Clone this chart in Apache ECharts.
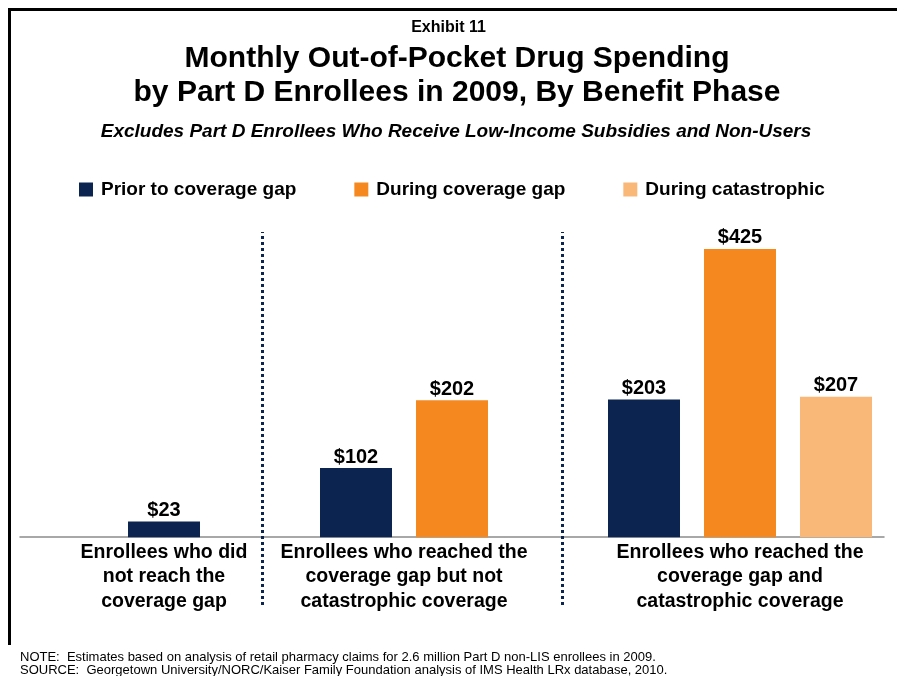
<!DOCTYPE html>
<html>
<head>
<meta charset="utf-8">
<script src="https://cdn.jsdelivr.net/npm/echarts@6/dist/echarts.min.js"></script>
<style>
  html, body { margin: 0; padding: 0; background: #fff; }
  #chart { width: 897px; height: 676px; }
</style>
</head>
<body>
<div id="chart"></div>
<script>
// Benefit-phase groups shown along the bottom
const groups = [
  'Enrollees who did\nnot reach the\ncoverage gap',
  'Enrollees who reached the\ncoverage gap but not\ncatastrophic coverage',
  'Enrollees who reached the\ncoverage gap and\ncatastrophic coverage'
];
const seriesNames = ['Prior to coverage gap', 'During coverage gap', 'During catastrophic'];
// Monthly out-of-pocket spending ($) per group
const priorToGap = [23, 102, 203];
const duringGap = [null, 202, 425];
const duringCatastrophic = [null, null, 207];
const seriesColors = ['#0B2550', '#F5891F', '#F9B878'];

const FONT = '"Liberation Sans", Arial, sans-serif';

// Column slots on the category axis: each group gets its own slots,
// with empty slots acting as spacers between groups.
const SLOT_COUNT = 9;
const groupSlots = [[1], [3, 4], [6, 7, 8]];
const dividerPositions = [2.52, 5.65];

const seriesValues = [priorToGap, duringGap, duringCatastrophic];
const slotCategories = Array.from({ length: SLOT_COUNT }, (_, i) => 'slot' + i);

function slotData(values, seriesIdx) {
  const arr = new Array(SLOT_COUNT).fill(null);
  values.forEach((v, g) => {
    if (v != null) arr[groupSlots[g][seriesIdx]] = v;
  });
  return arr;
}
const groupCenters = groupSlots.map(s => s.reduce((a, b) => a + b + 0.5, 0) / s.length);

const chart = echarts.init(document.getElementById('chart'), null, { renderer: 'canvas' });

const barSeries = seriesNames.map((name, i) => ({
  name,
  type: 'bar',
  stack: 'all',
  barWidth: 72,
  data: slotData(seriesValues[i], i),
  itemStyle: { color: seriesColors[i] },
  label: {
    show: true,
    position: 'top',
    distance: 1,
    formatter: p => '$' + p.value,
    fontFamily: FONT,
    fontWeight: 'bold',
    fontSize: 20,
    color: '#000'
  }
}));

// Plot area: 0 sits on the baseline, the negative range leaves room
// for the dotted dividers to run down beside the group labels.
const PLOT = { left: 20, right: 13, top: 232, bottom: 71 };

const option = {
  backgroundColor: '#fff',
  animation: false,
  textStyle: { fontFamily: FONT },
  title: [
    {
      text: 'Exhibit 11', left: 'center', top: 15,
      textStyle: { fontFamily: FONT, fontSize: 16, fontWeight: 'bold', color: '#000' }
    },
    {
      text: 'Monthly Out-of-Pocket Drug Spending\nby Part D Enrollees in 2009, By Benefit Phase',
      left: 452, top: 37, textAlign: 'center',
      textStyle: { fontFamily: FONT, fontSize: 30, fontWeight: 'bold', color: '#000', lineHeight: 34 }
    },
    {
      text: 'Excludes Part D Enrollees Who Receive Low-Income Subsidies and Non-Users',
      left: 451, top: 117, textAlign: 'center',
      textStyle: { fontFamily: FONT, fontSize: 19, fontWeight: 'bold', fontStyle: 'italic', color: '#000' }
    },
    {
      text: 'NOTE:  Estimates based on analysis of retail pharmacy claims for 2.6 million Part D non-LIS enrollees in 2009.\nSOURCE:  Georgetown University/NORC/Kaiser Family Foundation analysis of IMS Health LRx database, 2010.',
      left: 15, top: 646,
      textStyle: { fontFamily: FONT, fontSize: 13, fontWeight: 'normal', color: '#000', lineHeight: 13 }
    }
  ],
  legend: {
    data: seriesNames,
    left: 74, top: 175,
    itemWidth: 14, itemHeight: 14, itemGap: 58,
    icon: 'rect',
    textStyle: { fontFamily: FONT, fontSize: 19, fontWeight: 'bold', color: '#000', padding: [0, 0, 0, 3] }
  },
  grid: [
    Object.assign({ outerBoundsMode: 'none', containLabel: false }, PLOT),
    // label strip: its bottom edge coincides with the baseline
    { left: PLOT.left, right: PLOT.right, top: 300, bottom: 139, outerBoundsMode: 'none', containLabel: false }
  ],
  xAxis: [
    {
      type: 'category',
      gridIndex: 0,
      data: slotCategories,
      position: 'bottom',
      axisLine: { show: true, onZero: true, lineStyle: { color: '#8C8C8C', width: 1.5 } },
      axisTick: { show: false },
      axisLabel: { show: false },
      splitLine: { show: false }
    },
    {
      type: 'value',
      gridIndex: 0,
      min: 0, max: SLOT_COUNT,
      position: 'top',
      show: false
    },
    {
      type: 'value',
      gridIndex: 1,
      min: 0, max: SLOT_COUNT,
      position: 'bottom',
      axisLine: { show: false },
      axisTick: { show: false },
      splitLine: { show: false },
      axisLabel: {
        show: true,
        customValues: groupCenters,
        margin: 3,
        formatter: v => {
          const idx = groupCenters.findIndex(c => Math.abs(c - v) < 1e-6);
          return idx >= 0 ? groups[idx] : '';
        },
        fontFamily: FONT,
        fontWeight: 'bold',
        fontSize: 19.5,
        lineHeight: 24.5,
        color: '#000',
        align: 'center',
        verticalAlign: 'top'
      }
    }
  ],
  yAxis: [
    { type: 'value', gridIndex: 0, min: -100, max: 450, show: false, splitLine: { show: false } },
    { type: 'value', gridIndex: 1, min: 0, max: 1, show: false, splitLine: { show: false } }
  ],
  series: [
    ...barSeries,
    {
      name: 'dividers',
      type: 'line',
      xAxisIndex: 1,
      yAxisIndex: 0,
      data: [[0, 0]],
      showSymbol: false,
      symbolSize: 0,
      lineStyle: { opacity: 0 },
      silent: true,
      markLine: {
        silent: true,
        symbol: 'none',
        label: { show: false },
        lineStyle: { color: '#0B2550', type: [3, 3], width: 3 },
        data: dividerPositions.map(x => ({ xAxis: x }))
      }
    },
    {
      name: 'labels',
      type: 'line',
      xAxisIndex: 2,
      yAxisIndex: 1,
      data: [],
      silent: true
    }
  ],
  graphic: [
    {
      type: 'polyline',
      shape: { points: [[9.5, 645], [9.5, 9.5], [897, 9.5]] },
      style: { stroke: '#000', lineWidth: 3, fill: null },
      silent: true
    }
  ]
};

chart.setOption(option);
</script>
</body>
</html>
